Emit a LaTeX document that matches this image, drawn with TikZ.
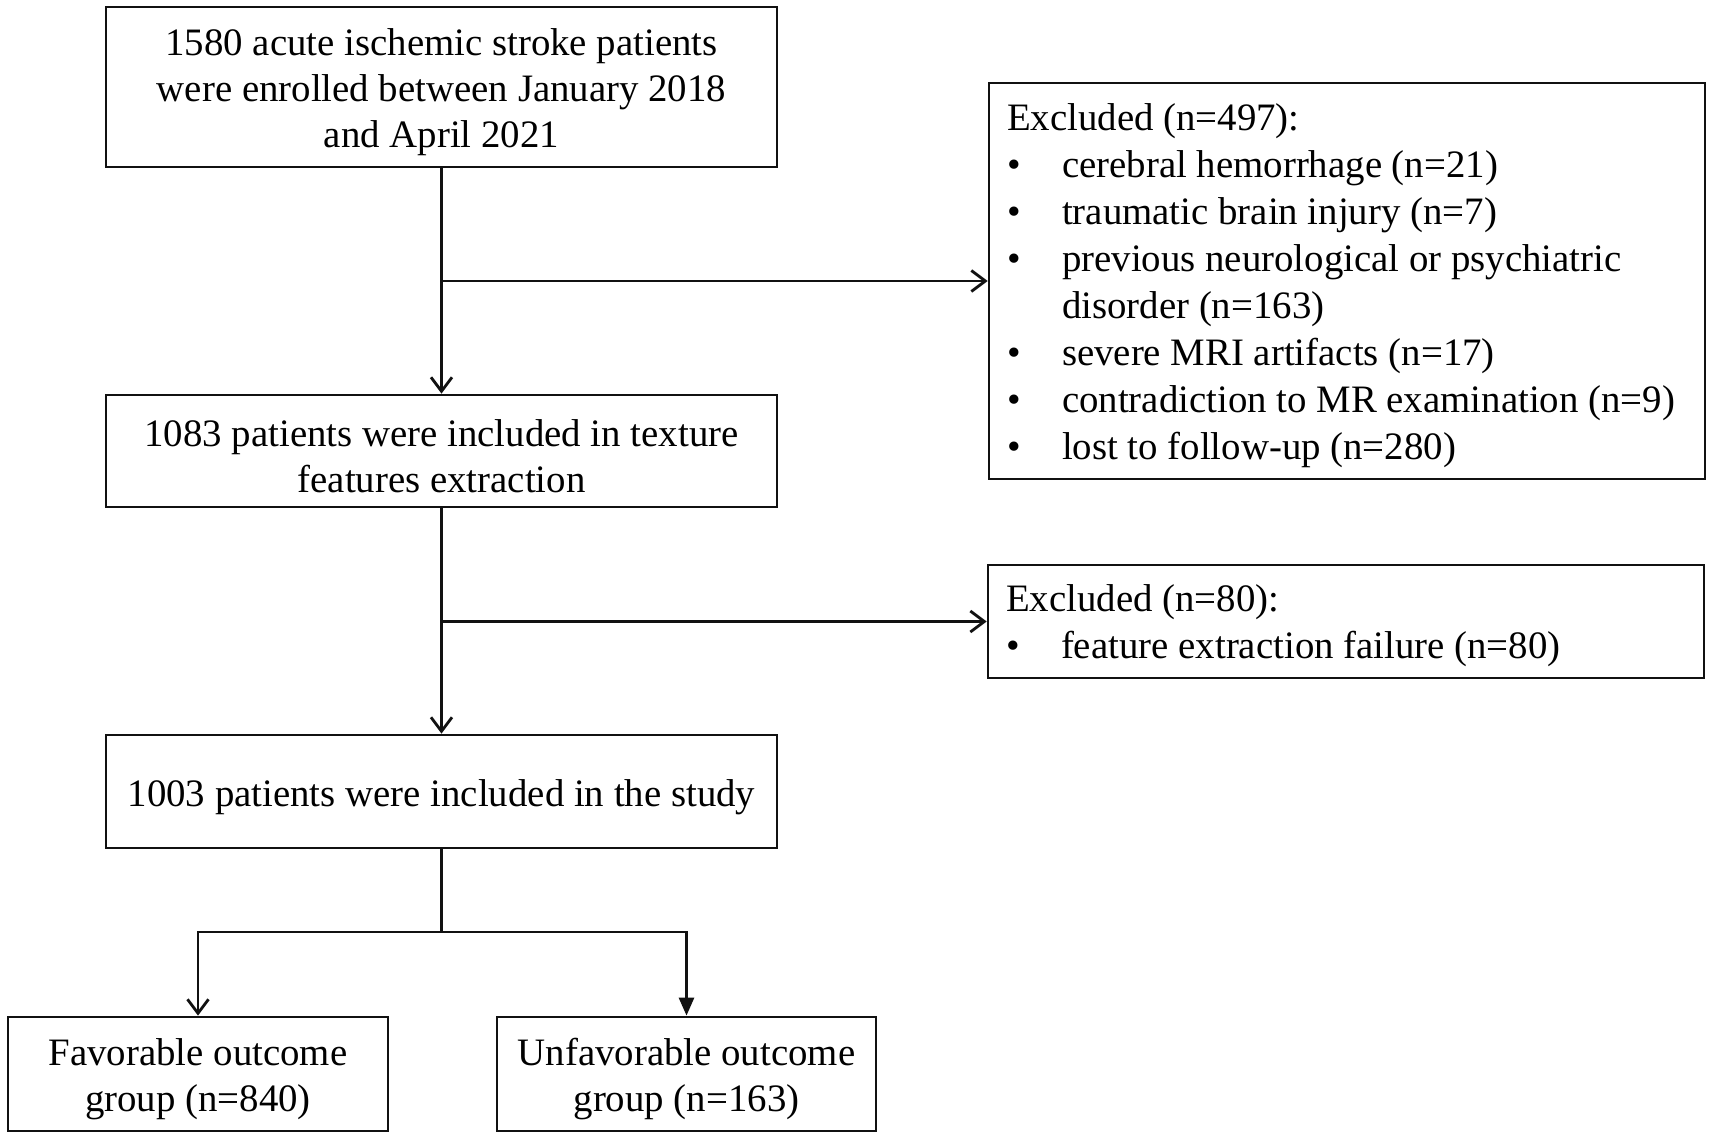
\documentclass[tikz,border=0pt]{standalone}
\usepackage{fontspec}
\setmainfont{Liberation Serif}
\usepackage{tikz}
\usetikzlibrary{arrows.meta, positioning, calc}
\definecolor{flowline}{HTML}{111111}

\newcommand{\boxstrut}{\rule{0pt}{0.76cm}}
\newcommand{\exitem}[1]{\par\hangindent=1.1cm\hangafter=1\noindent\makebox[1.1cm][l]{\textbullet}#1}

\tikzset{
  flowbox/.style={draw=flowline, line width=1.6pt, align=center, inner sep=0pt,
    font=\fontsize{22.1}{26.2}\selectfont},
  exclbox/.style={draw=flowline, line width=1.6pt, align=flush left, inner xsep=0.36cm,
    text width=13.6cm, font=\fontsize{22.1}{26.7}\selectfont},
  openarrow/.style={flowline, line width=1.6pt, -{Straight Barb[length=0.28cm, width=0.42cm]}},
  filledarrow/.style={flowline, line width=1.6pt, -{Triangle[length=0.36cm, width=0.3cm]}}
}

\begin{document}
\begin{tikzpicture}[x=0.02cm, y=-0.02cm]
  % Page frame
  \useasboundingbox (0,0) rectangle (1713,1138);

  % Main column
  \node[flowbox, minimum width=13.42cm, minimum height=3.2cm] (enrolled) at (441.5, 87)
    {\boxstrut 1580 acute ischemic stroke patients\\were enrolled between January 2018\\and April 2021};
  \node[flowbox, minimum width=13.42cm, minimum height=2.24cm] (texture) at (441.5, 451)
    {\boxstrut 1083 patients were included in texture\\features extraction};
  \node[flowbox, minimum width=13.42cm, minimum height=2.26cm] (study) at (441.5, 791.5)
    {\boxstrut 1003 patients were included in the study};

  % Outcome groups
  \node[flowbox, minimum width=7.6cm, minimum height=2.28cm] (favorable) at (198, 1074)
    {\boxstrut Favorable outcome\\group (n=840)};
  \node[flowbox, minimum width=7.58cm, minimum height=2.28cm] (unfavorable) at (686.5, 1074)
    {\boxstrut Unfavorable outcome\\group (n=163)};

  % Exclusion boxes
  \node[exclbox, minimum height=7.92cm] (excluded1) at (1347, 281)
    {\rule{0pt}{0.72cm}Excluded (n=497):
     \exitem{cerebral hemorrhage (n=21)}
     \exitem{traumatic brain injury (n=7)}
     \exitem{previous neurological or psychiatric\hfil\break disorder (n=163)}
     \exitem{severe MRI artifacts (n=17)}
     \exitem{contradiction to MR examination (n=9)}
     \exitem{lost to follow-up (n=280)}};
  \node[exclbox, minimum height=2.26cm] (excluded2) at (1346, 621.5)
    {\rule{0pt}{0.72cm}Excluded (n=80):
     \exitem{feature extraction failure (n=80)}};

  % Connectors
  \coordinate (branch1) at (enrolled.south |- excluded1.west);
  \coordinate (branch2) at (texture.south |- excluded2.west);
  \coordinate (split) at (441.5, 932);

  \draw[openarrow] (enrolled.south) -- (texture.north);
  \draw[openarrow] (branch1) -- (excluded1.west);
  \draw[openarrow] (texture.south) -- (study.north);
  \draw[openarrow] (branch2) -- (excluded2.west);

  \draw[flowline, line width=2.2pt] (study.south) -- (split);
  \draw[openarrow] (split) -| (favorable.north);
  \draw[filledarrow] (split) -| (unfavorable.north);
\end{tikzpicture}
\end{document}
